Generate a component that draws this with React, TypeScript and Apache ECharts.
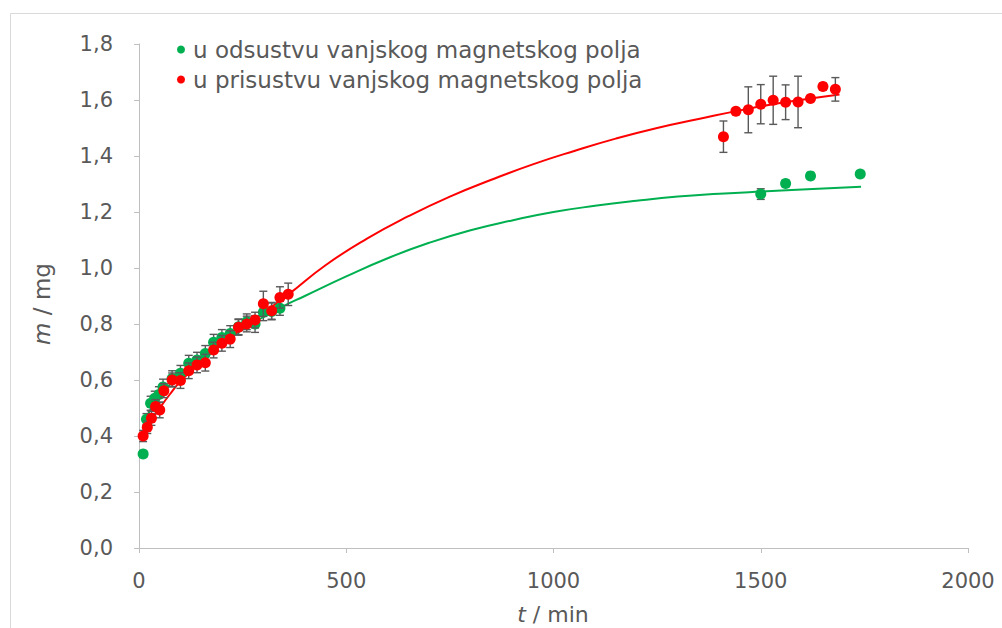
import React, { useEffect, useRef } from "react";
import * as echarts from "echarts";

// ---- data ----
const greenT = [10, 18, 28, 38, 48, 58, 80, 100, 120, 140, 160, 180, 200, 220, 240, 260, 280, 300, 320, 340, 1500, 1560, 1620, 1740];
const greenM = [0.336, 0.46, 0.517, 0.535, 0.548, 0.575, 0.605, 0.624, 0.66, 0.671, 0.695, 0.735, 0.752, 0.766, 0.79, 0.808, 0.8, 0.842, 0.845, 0.856, 1.264, 1.302, 1.329, 1.336];
const greenE = [0.012, 0.02, 0.025, 0.025, 0.028, 0.028, 0.028, 0.028, 0.028, 0.028, 0.028, 0.028, 0.028, 0.028, 0.028, 0.028, 0.03, 0.03, 0.03, 0.025, 0.019, 0.012, 0.01, 0.01];

const redT = [10, 20, 30, 40, 50, 60, 80, 100, 120, 140, 160, 180, 200, 220, 240, 260, 280, 300, 320, 340, 360, 1410, 1440, 1470, 1500, 1530, 1560, 1590, 1620, 1650, 1680];
const redM = [0.4, 0.431, 0.463, 0.505, 0.493, 0.562, 0.6, 0.598, 0.633, 0.654, 0.662, 0.707, 0.731, 0.746, 0.788, 0.8, 0.814, 0.872, 0.847, 0.895, 0.906, 1.469, 1.56, 1.565, 1.585, 1.599, 1.592, 1.593, 1.605, 1.648, 1.638];
const redE = [0.02, 0.022, 0.025, 0.025, 0.028, 0.025, 0.025, 0.028, 0.028, 0.028, 0.03, 0.028, 0.028, 0.03, 0.028, 0.028, 0.028, 0.045, 0.03, 0.038, 0.04, 0.056, 0.01, 0.082, 0.07, 0.086, 0.062, 0.092, 0.008, 0.012, 0.042];

const greenFitT = [15, 30, 50, 75, 100, 150, 200, 250, 300, 350, 400, 500, 600, 700, 800, 900, 1000, 1100, 1200, 1300, 1400, 1500, 1600, 1742];
const greenFitM = [0.455, 0.5, 0.54, 0.585, 0.62, 0.68, 0.735, 0.78, 0.825, 0.865, 0.9, 0.97, 1.035, 1.09, 1.135, 1.17, 1.2, 1.222, 1.24, 1.255, 1.265, 1.273, 1.28, 1.29];

const redFitT = [10, 25, 50, 75, 100, 150, 200, 250, 300, 360, 450, 550, 650, 750, 850, 950, 1050, 1150, 1250, 1350, 1450, 1550, 1690];
const redFitM = [0.4, 0.445, 0.5, 0.55, 0.595, 0.665, 0.73, 0.785, 0.84, 0.905, 1.01, 1.105, 1.185, 1.255, 1.315, 1.37, 1.418, 1.462, 1.5, 1.532, 1.563, 1.59, 1.62];

const xTicks = { min: 0, max: 2000, interval: 500 };
const yTicks = { min: 0, max: 1.8, interval: 0.2 };

const greenName = "u odsustvu vanjskog magnetskog polja";
const redName = "u prisustvu vanjskog magnetskog polja";

const GREEN = "#00b050";
const RED = "#ff0000";
const TEXT = "#595959";
const AXIS = "#bfbfbf";
const FONT = "DejaVu Sans";

const pairs = (a: number[], b: number[]) => a.map((t, i) => [t, b[i]]);
const errs = (t: number[], m: number[], e: number[]) => t.map((x, i) => [x, m[i] - e[i], m[i] + e[i]]);

const errorRender = (params: any, api: any) => {
  const t = api.value(0);
  const lo = api.coord([t, api.value(1)]);
  const hi = api.coord([t, api.value(2)]);
  const w = 4;
  const style = { stroke: "#595959", lineWidth: 1.4 };
  return {
    type: "group",
    children: [
      { type: "line", shape: { x1: lo[0], y1: lo[1], x2: hi[0], y2: hi[1] }, style },
      { type: "line", shape: { x1: lo[0] - w, y1: lo[1], x2: lo[0] + w, y2: lo[1] }, style },
      { type: "line", shape: { x1: hi[0] - w, y1: hi[1], x2: hi[0] + w, y2: hi[1] }, style },
    ],
  };
};

export default function App() {
  const ref = useRef<HTMLDivElement>(null);
  useEffect(() => {
    if (!ref.current) return;
    const chart = echarts.init(ref.current, undefined, { renderer: "svg" });
    const option: any = {
      animation: false,
      backgroundColor: "#ffffff",
      grid: { left: 139, right: 34, top: 44, bottom: 80 },
      legend: {
        data: [
          { name: greenName, icon: "circle" },
          { name: redName, icon: "circle" },
        ],
        orient: "vertical",
        left: 172,
        top: 33,
        itemWidth: 14,
        itemHeight: 8,
        itemGap: 7,
        textStyle: { color: TEXT, fontSize: 23, fontFamily: FONT, lineHeight: 23 },
      },
      xAxis: {
        type: "value",
        min: xTicks.min,
        max: xTicks.max,
        interval: xTicks.interval,
        axisLine: { show: true, lineStyle: { color: AXIS, width: 1 } },
        axisTick: { show: true, length: 5, lineStyle: { color: AXIS } },
        splitLine: { show: false },
        axisLabel: {
          color: TEXT,
          fontSize: 21,
          fontFamily: FONT,
          margin: 22,
          formatter: (v: number) => String(v),
        },
      },
      yAxis: {
        type: "value",
        min: yTicks.min,
        max: yTicks.max,
        interval: yTicks.interval,
        axisLine: { show: true, lineStyle: { color: AXIS, width: 1 } },
        axisTick: { show: true, length: 5, lineStyle: { color: AXIS } },
        splitLine: { show: false },
        axisLabel: {
          color: TEXT,
          fontSize: 21,
          fontFamily: FONT,
          margin: 26,
          formatter: (v: number) => v.toFixed(1).replace(".", ","),
        },
      },
      graphic: [
        {
          type: "rect",
          silent: true,
          shape: { x: 10.5, y: 13.5, width: 1000, height: 700 },
          style: { fill: "none", stroke: "#d9d9d9", lineWidth: 1 },
        },
        {
          type: "text",
          x: 553,
          y: 614,
          style: {
            text: "{i|t} / min",
            fill: TEXT,
            fontSize: 22,
            fontFamily: FONT,
            align: "center",
            verticalAlign: "middle",
            rich: { i: { fontStyle: "italic", fill: TEXT, fontSize: 22, fontFamily: FONT } },
          },
        },
        {
          type: "text",
          x: 42,
          y: 304,
          rotation: Math.PI / 2,
          style: {
            text: "{i|m} / mg",
            fill: TEXT,
            fontSize: 23,
            fontFamily: FONT,
            align: "center",
            verticalAlign: "middle",
            rich: { i: { fontStyle: "italic", fill: TEXT, fontSize: 23, fontFamily: FONT } },
          },
        },
      ],
      series: [
        {
          name: "greenFit",
          type: "line",
          data: pairs(greenFitT, greenFitM),
          smooth: true,
          symbol: "none",
          lineStyle: { color: GREEN, width: 2 },
          z: 2,
        },
        {
          name: "redFit",
          type: "line",
          data: pairs(redFitT, redFitM),
          smooth: true,
          symbol: "none",
          lineStyle: { color: RED, width: 2 },
          z: 2,
        },
        {
          name: "greenErr",
          type: "custom",
          data: errs(greenT, greenM, greenE),
          renderItem: errorRender,
          z: 3,
        },
        {
          name: greenName,
          type: "scatter",
          data: pairs(greenT, greenM),
          symbol: "circle",
          symbolSize: 11,
          itemStyle: { color: GREEN, opacity: 1 },
          z: 4,
        },
        {
          name: "redErr",
          type: "custom",
          data: errs(redT, redM, redE),
          renderItem: errorRender,
          z: 5,
        },
        {
          name: redName,
          type: "scatter",
          data: pairs(redT, redM),
          symbol: "circle",
          symbolSize: 11,
          itemStyle: { color: RED, opacity: 1 },
          z: 6,
        },
      ],
    };
    chart.setOption(option);
    return () => chart.dispose();
  }, []);
  return (
    <div
      ref={ref}
      style={{ position: "fixed", left: 0, top: 0, width: 1002, height: 628, background: "#fff" }}
    />
  );
}
